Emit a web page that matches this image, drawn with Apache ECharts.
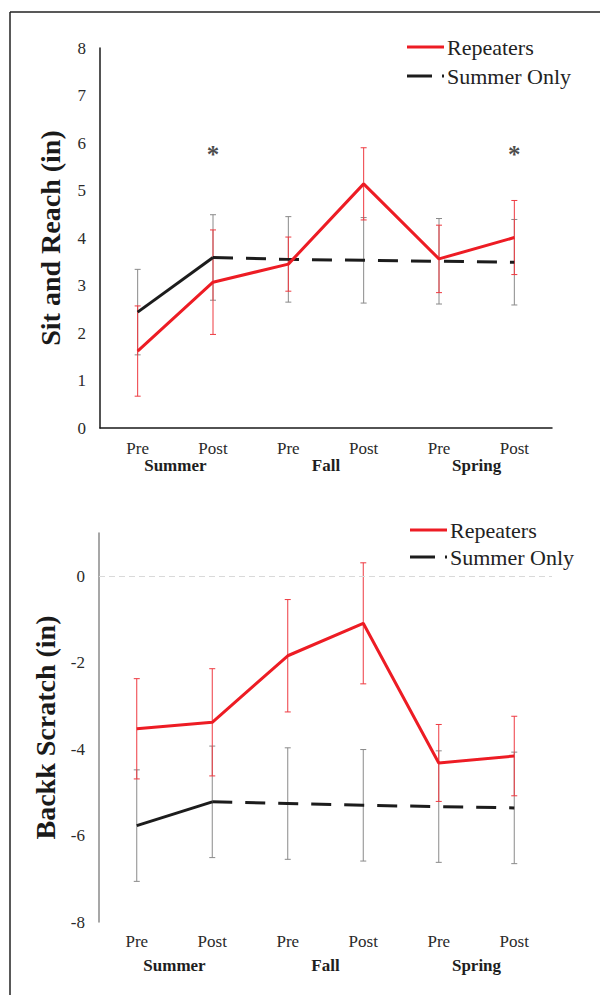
<!DOCTYPE html>
<html>
<head>
<meta charset="utf-8">
<script src="https://cdn.jsdelivr.net/npm/echarts@6/dist/echarts.min.js"></script>
<style>
  html, body { margin: 0; padding: 0; background: #fff; }
  #chart { width: 600px; height: 995px; }
</style>
</head>
<body>
<div id="chart"></div>
<script>
// ---- data ----
const categories = ['Pre', 'Post', 'Pre', 'Post', 'Pre', 'Post'];
const seasons = ['Summer', 'Fall', 'Spring'];

const sitRepeaters = [1.62, 3.07, 3.45, 5.14, 3.56, 4.01];
const sitRepeatersErr = [0.95, 1.10, 0.57, 0.76, 0.71, 0.78];
const sitSummerOnly = [2.44, 3.59, 3.55, 3.53, 3.51, 3.49];
const sitSummerOnlyErr = [0.90, 0.90, 0.90, 0.90, 0.90, 0.90];
const sitSignificant = ['', '*', '', '', '', '*'];
const sitSignificantLevel = 5.75;

const backRepeaters = [-3.53, -3.38, -1.84, -1.09, -4.32, -4.16];
const backRepeatersErr = [1.16, 1.24, 1.30, 1.40, 0.89, 0.92];
const backSummerOnly = [-5.77, -5.22, -5.26, -5.30, -5.33, -5.36];
const backSummerOnlyErr = [1.29, 1.29, 1.29, 1.29, 1.29, 1.29];

// ---- styling ----
const FONT = 'Liberation Serif';
const RED = '#ed1c24';
const RED_ERR = '#ee3a41';
const BLACK = '#1c1c1c';
const GRAY_ERR = '#8a8a8a';

function errData(mean, err) {
  return mean.map((m, i) => [i, m - err[i], m + err[i]]);
}
function errSeries(mean, err, color, axisIdx) {
  return {
    type: 'custom',
    xAxisIndex: axisIdx * 2,
    yAxisIndex: axisIdx,
    z: 1,
    silent: true,
    data: errData(mean, err),
    renderItem: function (params, api) {
      const x = api.value(0);
      const top = api.coord([x, api.value(2)]);
      const bot = api.coord([x, api.value(1)]);
      const w = 3;
      const st = { stroke: color, lineWidth: 1 };
      return {
        type: 'group',
        children: [
          { type: 'line', shape: { x1: top[0], y1: top[1], x2: bot[0], y2: bot[1] }, style: st },
          { type: 'line', shape: { x1: top[0] - w, y1: top[1], x2: top[0] + w, y2: top[1] }, style: st },
          { type: 'line', shape: { x1: bot[0] - w, y1: bot[1], x2: bot[0] + w, y2: bot[1] }, style: st }
        ]
      };
    }
  };
}
function summerOnlySeries(values, axisIdx, extra) {
  const solid = values.map((v, i) => (i <= 1 ? v : '-'));
  const dashed = values.map((v, i) => (i >= 1 ? v : '-'));
  return [
    Object.assign({
      name: 'Summer Only', type: 'line', xAxisIndex: axisIdx * 2, yAxisIndex: axisIdx,
      data: solid, symbol: 'none', z: 2, color: BLACK,
      lineStyle: { color: BLACK, width: 3 }
    }, extra || {}),
    {
      name: 'Summer Only', type: 'line', xAxisIndex: axisIdx * 2, yAxisIndex: axisIdx,
      data: dashed, symbol: 'none', z: 2, color: BLACK,
      lineStyle: { color: BLACK, width: 3, type: [20, 13] }
    }
  ];
}
function repeatersSeries(values, axisIdx) {
  return {
    name: 'Repeaters', type: 'line', xAxisIndex: axisIdx * 2, yAxisIndex: axisIdx,
    data: values, symbol: 'none', z: 3, color: RED,
    lineStyle: { color: RED, width: 3 }
  };
}

const legendData = [
  { name: 'Repeaters', icon: 'path://M0,0H37V3H0Z' },
  { name: 'Summer Only', icon: 'path://M0,0H25V3H0Z M35,0H37V3H35Z' }
];
function legend(left, top, gap) {
  return {
    data: legendData, orient: 'vertical', left: left, top: top,
    itemWidth: 37, itemHeight: 3, itemGap: gap, selectedMode: false,
    textStyle: { fontFamily: FONT, fontSize: 22, color: '#222', padding: [0, 0, 0, -2] }
  };
}

const catLabel = { fontFamily: FONT, fontSize: 17, color: '#2a2a2a' };
const grpLabel = { fontFamily: FONT, fontSize: 17, color: '#1e1e1e', fontWeight: 'bold' };

const option = {
  backgroundColor: '#fff',
  animation: false,
  legend: [legend(402, 31, 7), legend(405, 514, 5)],
  grid: [
    { left: 100, right: 48, top: 48, height: 380 },
    { left: 99, right: 48, top: 533, height: 389 }
  ],
  xAxis: [
    { gridIndex: 0, type: 'category', data: categories, boundaryGap: true,
      axisLine: { show: true, lineStyle: { color: '#1a1a1a', width: 1.5 } },
      axisTick: { show: false }, axisLabel: Object.assign({ margin: 12, interval: 0 }, catLabel) },
    { gridIndex: 0, type: 'category', data: seasons, position: 'bottom', offset: 17,
      axisLine: { show: false }, axisTick: { show: false },
      axisLabel: Object.assign({ margin: 12, interval: 0 }, grpLabel) },
    { gridIndex: 1, type: 'category', data: categories, boundaryGap: true,
      axisLine: { show: false }, axisTick: { show: false },
      axisLabel: Object.assign({ margin: 11, interval: 0 }, catLabel) },
    { gridIndex: 1, type: 'category', data: seasons, position: 'bottom', offset: 24,
      axisLine: { show: false }, axisTick: { show: false },
      axisLabel: Object.assign({ margin: 11, interval: 0 }, grpLabel) }
  ],
  yAxis: [
    { gridIndex: 0, type: 'value', min: 0, max: 8, interval: 1,
      name: 'Sit and Reach (in)', nameLocation: 'middle', nameGap: 36,
      nameTextStyle: { fontFamily: FONT, fontSize: 28, fontWeight: 'bold', color: '#1a1a1a' },
      axisLine: { show: true, lineStyle: { color: '#1a1a1a', width: 1.5 } },
      axisTick: { show: false }, splitLine: { show: false },
      axisLabel: Object.assign({ margin: 14 }, catLabel) },
    { gridIndex: 1, type: 'value', min: -8, max: 1, interval: 2,
      name: 'Backk Scratch (in)', nameLocation: 'middle', nameGap: 36,
      nameTextStyle: { fontFamily: FONT, fontSize: 28, fontWeight: 'bold', color: '#1a1a1a' },
      axisLine: { show: true, lineStyle: { color: '#8a8a8a', width: 1.5 } },
      axisTick: { show: false }, splitLine: { show: false },
      axisLabel: Object.assign({ margin: 14, showMaxLabel: false }, catLabel) }
  ],
  series: [
    ...summerOnlySeries(sitSummerOnly, 0),
    repeatersSeries(sitRepeaters, 0),
    errSeries(sitSummerOnly, sitSummerOnlyErr, GRAY_ERR, 0),
    errSeries(sitRepeaters, sitRepeatersErr, RED_ERR, 0),
    {
      type: 'scatter', xAxisIndex: 0, yAxisIndex: 0, silent: true,
      symbolSize: 1, itemStyle: { color: 'rgba(0,0,0,0)' },
      data: sitSignificant.map((s, i) => (s ? [i, sitSignificantLevel, s] : null)).filter(Boolean),
      label: { show: true, position: 'inside', formatter: p => p.value[2],
        fontFamily: FONT, fontSize: 25, fontWeight: 'bold', color: '#1a1a1a' }
    },
    ...summerOnlySeries(backSummerOnly, 1, {
      markLine: { silent: true, symbol: 'none', label: { show: false },
        lineStyle: { color: '#d9d9d9', type: [6, 4], width: 1 },
        data: [{ yAxis: 0 }] }
    }),
    repeatersSeries(backRepeaters, 1),
    errSeries(backSummerOnly, backSummerOnlyErr, GRAY_ERR, 1),
    errSeries(backRepeaters, backRepeatersErr, RED_ERR, 1)
  ],
  graphic: [
    { type: 'line', silent: true, shape: { x1: 10, y1: 12, x2: 600, y2: 12 },
      style: { stroke: '#222', lineWidth: 1.5 } },
    { type: 'line', silent: true, shape: { x1: 10, y1: 12, x2: 10, y2: 995 },
      style: { stroke: '#222', lineWidth: 1.5 } }
  ]
};

const chart = echarts.init(document.getElementById('chart'), null, { renderer: 'svg' });
chart.setOption(option);
</script>
</body>
</html>
